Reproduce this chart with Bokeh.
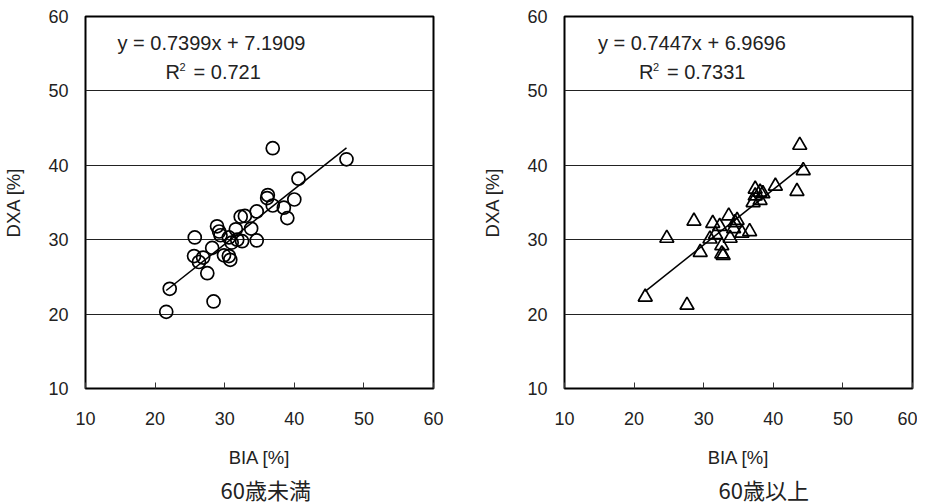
from bokeh.plotting import figure
from bokeh.models import Range1d, FixedTicker, Label, Title
from bokeh.layouts import row
from bokeh.embed import file_html
from bokeh.resources import INLINE

# ---- data ----
under_x = [36.9, 47.5, 40.6, 36.2, 36.1, 40.0, 36.9, 38.5, 39.0, 34.6, 32.9, 32.3, 33.8, 31.6,
           28.9, 29.2, 29.4, 31.8, 32.5, 34.6, 30.6, 25.7, 28.2, 29.9, 30.8, 25.6, 26.9, 26.3,
           27.5, 22.1, 28.4, 21.6, 31.0, 30.6]
under_y = [42.3, 40.8, 38.2, 36.0, 35.6, 35.4, 34.6, 34.3, 32.9, 33.8, 33.2, 33.1, 31.5, 31.4,
           31.8, 31.1, 30.6, 30.0, 29.8, 29.9, 30.3, 30.3, 28.9, 27.9, 27.3, 27.8, 27.6, 27.0,
           25.5, 23.4, 21.7, 20.3, 29.6, 27.8]
over_x = [43.8, 44.3, 43.4, 40.3, 37.4, 38.1, 38.5, 37.4, 38.1, 37.1, 33.6, 34.8, 34.5, 31.3,
          32.3, 28.6, 34.3, 35.5, 36.6, 31.7, 30.9, 33.8, 24.7, 29.5, 32.6, 32.6, 32.8, 21.6, 27.6]
over_y = [42.7, 39.3, 36.5, 37.2, 36.8, 36.4, 36.2, 35.9, 35.3, 35.0, 33.2, 32.6, 32.3, 32.2,
          31.8, 32.5, 31.5, 30.9, 31.1, 30.7, 30.1, 30.2, 30.2, 28.3, 29.2, 28.1, 27.9, 22.3, 21.2]

under_fit = (0.7399, 7.1909)
over_fit = (0.7447, 6.9696)
under_eq = "y = 0.7399x + 7.1909"
over_eq = "y = 0.7447x + 6.9696"
under_r2 = "= 0.721"
over_r2 = "= 0.7331"
titles = ["60歳未満", "60歳以上"]
ticks = [10, 20, 30, 40, 50, 60]
x_label = "BIA [%]"
y_label = "DXA [%]"

FONT = "Liberation Sans"
CJK = "Noto Sans CJK JP"


def make(xs, ys, marker, fit, eq, r2, title, eq_x, r_x, border_left, border_right, title_offset):
    p = figure(frame_width=348, frame_height=372, output_backend="svg", toolbar_location=None,
               x_range=Range1d(10, 60), y_range=Range1d(10, 60),
               min_border_left=border_left, min_border_right=border_right,
               min_border_top=16, min_border_bottom=112)
    p.background_fill_color = "white"
    p.border_fill_color = "white"
    p.outline_line_color = "black"
    p.outline_line_width = 2
    p.xgrid.grid_line_color = None
    p.ygrid.grid_line_color = "#222222"
    p.ygrid.grid_line_width = 1
    for ax in (p.xaxis[0], p.yaxis[0]):
        ax.ticker = FixedTicker(ticks=ticks)
        ax.axis_line_color = None
        ax.minor_tick_line_color = None
        ax.major_label_text_font = FONT
        ax.major_label_text_font_size = "18px"
        ax.major_label_text_color = "#222222"
        ax.axis_label_text_font = FONT
        ax.axis_label_text_font_size = "18.5px"
        ax.axis_label_text_font_style = "normal"
        ax.axis_label_text_color = "#222222"
        ax.major_tick_out = 0
    p.xaxis.major_tick_in = 6
    p.xaxis.major_tick_line_width = 1
    p.xaxis.major_tick_line_color = "#333333"
    p.yaxis.major_tick_in = 0
    p.xaxis.major_label_standoff = 23
    p.yaxis.major_label_standoff = 17
    p.xaxis.axis_label = x_label
    p.yaxis.axis_label = y_label
    p.xaxis.axis_label_standoff = 19
    p.yaxis.axis_label_standoff = 21

    lx = [min(xs), max(xs)]
    ly = [fit[0] * v + fit[1] for v in lx]
    p.line(lx, ly, line_color="black", line_width=1.5)
    p.scatter(xs, ys, marker=marker, size=13 if marker == "circle" else 14,
              fill_color=None, line_color="black", line_width=1.7)

    p.add_layout(Label(x=eq_x, y=56.5, text=eq, text_font=FONT, text_font_size="20px",
                       text_baseline="middle", text_color="#222222"))
    p.add_layout(Label(x=r_x, y=52.6, text="R", text_font=FONT, text_font_size="20px",
                       text_baseline="middle", text_color="#222222"))
    p.add_layout(Label(x=r_x, y=52.6, x_offset=14, y_offset=5, text="2", text_font=FONT,
                       text_font_size="11px", text_baseline="middle", text_color="#222222"))
    p.add_layout(Label(x=r_x, y=52.6, x_offset=28, text=r2, text_font=FONT,
                       text_font_size="20px", text_baseline="middle", text_color="#222222"))

    t = Title(text=title, align="left", text_font=CJK, text_font_size="22px",
              text_font_style="normal", text_color="#222222", offset=title_offset, standoff=0)
    p.add_layout(t, "below")
    return p


p1 = make(under_x, under_y, "circle", under_fit, under_eq, under_r2, titles[0],
          14.6, 21.5, 84, 43, 135)
p2 = make(over_x, over_y, "triangle", over_fit, over_eq, over_r2, titles[1],
          14.8, 20.7, 88, 5, 154)

layout = row(p1, p2, spacing=0)
open("out.html", "w").write(file_html(layout, INLINE))
